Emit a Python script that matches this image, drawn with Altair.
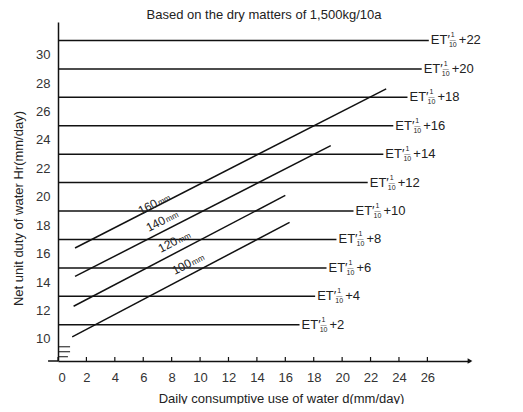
import altair as alt
import pandas as pd

FONT = "Liberation Sans"
TITLE = "Based on the dry matters of 1,500kg/10a"
X_TITLE = "Daily consumptive use of water d(mm/day)"
Y_TITLE = "Net unit duty of water Hr(mm/day)"

# axes
x_ticks = [0, 2, 4, 6, 8, 10, 12, 14, 16, 18, 20, 22, 24, 26]
y_ticks = [10, 12, 14, 16, 18, 20, 22, 24, 26, 28, 30]
x_domain = [0, 29]
y_domain = [8.45, 32.3]

# horizontal lines  ET'(1/10) + k
h_y = [11, 13, 15, 17, 19, 21, 23, 25, 27, 29, 31]
h_end = [17.0, 18.1, 18.9, 19.6, 20.8, 21.8, 22.9, 23.6, 24.6, 25.6, 26.1]
h_add = ["+2", "+4", "+6", "+8", "+10", "+12", "+14", "+16", "+18", "+20", "+22"]

# diagonal lines (100/120/140/160 mm)
d_num = ["100", "120", "140", "160"]
d_x1 = [1.0, 1.1, 1.2, 1.2]
d_y1 = [10.15, 12.3, 14.4, 16.4]
d_x2 = [16.3, 16.0, 19.2, 23.1]
d_y2 = [18.2, 20.1, 23.6, 27.6]
d_lx = [9.15, 8.17, 7.32, 6.76]
d_ly = [15.3, 16.85, 18.32, 19.52]

# axis decorations
stub_x = [-0.7, 0]
break_y = [8.75, 9.1, 9.45]
break_len = [0.7, 0.85, 0.85]
tick_len = 0.28

h_df = pd.DataFrame({"y": h_y, "x0": [0] * len(h_y), "x1": h_end, "add": h_add,
                     "et": ["ET\u2032"] * len(h_y), "num": ["1"] * len(h_y),
                     "den": ["10"] * len(h_y), "bar": ["\u2014"] * len(h_y)})
d_df = pd.DataFrame({"x1": d_x1, "y1": d_y1, "x2": d_x2, "y2": d_y2,
                     "lx": d_lx, "ly": d_ly, "num": d_num, "mm": ["mm"] * len(d_num)})
t_df = pd.DataFrame({"x": x_ticks, "y0": [y_domain[0]] * len(x_ticks),
                     "y1": [y_domain[0] + tick_len] * len(x_ticks)})
stub_df = pd.DataFrame({"x0": [stub_x[0]], "x1": [stub_x[1]], "y": [y_domain[0]]})
arrow_df = pd.DataFrame({"x": [x_domain[1]], "y": [y_domain[0]]})
brk_df = pd.DataFrame({"y": break_y, "x0": [0] * len(break_y), "x1": break_len})

xs = alt.Scale(domain=x_domain, nice=False, zero=False)
ys = alt.Scale(domain=y_domain, nice=False, zero=False)

axis_x = alt.Axis(values=x_ticks, ticks=False, tickSize=0, grid=False,
                  domainColor="#111", domainWidth=1.5, labelFontSize=13,
                  labelColor="#333", labelPadding=10, labelFont=FONT,
                  title=X_TITLE, titleFontSize=13, titleFontWeight="normal",
                  titleColor="#222", titleFont=FONT, titleX=223, titleY=37,
                  titleBaseline="middle", titleAlign="center")
axis_y = alt.Axis(values=y_ticks, ticks=False, tickSize=0, grid=False,
                  domainColor="#111", domainWidth=1.5, labelFontSize=13,
                  labelColor="#333", labelPadding=8, labelFont=FONT,
                  title=Y_TITLE, titleFontSize=13, titleFontWeight="normal",
                  titleColor="#222", titleFont=FONT, titleAngle=270,
                  titleX=-40, titleY=186, titleBaseline="middle", titleAlign="center")

LINE = "#111"
TXT = "#222"


def X(field):
    return alt.X(f"{field}:Q", scale=xs, axis=axis_x)


def Y(field):
    return alt.Y(f"{field}:Q", scale=ys, axis=axis_y)


hlines = alt.Chart(h_df).mark_rule(color=LINE, strokeWidth=1.5).encode(
    x=X("x0"), x2="x1:Q", y=Y("y"),
)


def hlabel(field, dx, dy, size, align):
    return alt.Chart(h_df).mark_text(align=align, baseline="middle", dx=dx, dy=dy,
                                     fontSize=size, color=TXT, font=FONT).encode(
        x=X("x1"), y=Y("y"), text=f"{field}:N",
    )


et = hlabel("et", 2, 0, 13, "left")
num = hlabel("num", 24, -5, 7, "center")
bar = hlabel("bar", 24, 0, 6, "center")
den = hlabel("den", 24, 5, 7, "center")
add = hlabel("add", 30, 0, 13, "left")

dlines = alt.Chart(d_df).mark_rule(color=LINE, strokeWidth=1.5).encode(
    x=X("x1"), y=Y("y1"), x2="x2:Q", y2="y2:Q",
)
dnum = alt.Chart(d_df).mark_text(align="right", baseline="alphabetic", dx=3, dy=4,
                                 angle=333, fontSize=12, color=TXT, font=FONT).encode(
    x=X("lx"), y=Y("ly"), text="num:N",
)
dmm = alt.Chart(d_df).mark_text(align="left", baseline="alphabetic", dx=4, dy=4,
                                angle=333, fontSize=8, color=TXT, font=FONT).encode(
    x=X("lx"), y=Y("ly"), text="mm:N",
)

ticks = alt.Chart(t_df).mark_rule(color=LINE, strokeWidth=1.2).encode(
    x=X("x"), y=Y("y0"), y2="y1:Q",
)
stub = alt.Chart(stub_df).mark_rule(color=LINE, strokeWidth=1.5).encode(
    x=X("x0"), x2="x1:Q", y=Y("y"),
)
arrow = alt.Chart(arrow_df).mark_point(shape="triangle-right", filled=True, size=30,
                                       color=LINE, opacity=1).encode(
    x=X("x"), y=Y("y"),
)
brk = alt.Chart(brk_df).mark_rule(color=LINE, strokeWidth=1).encode(
    x=X("x0"), x2="x1:Q", y=Y("y"),
)

chart = alt.layer(hlines, dlines, et, num, bar, den, add, dnum, dmm, ticks, stub,
                  arrow, brk).properties(
    width=412,
    height=339,
    autosize=alt.AutoSizeParams(type="none"),
    padding={"left": 50, "top": 14, "right": 45, "bottom": 43},
    title=alt.TitleParams(TITLE, fontSize=13, fontWeight="normal", font=FONT,
                          color=TXT, anchor="middle", offset=0),
    background="white",
).configure_view(strokeWidth=0)

chart.save("out.html", embed_options={"renderer": "svg", "actions": False})
